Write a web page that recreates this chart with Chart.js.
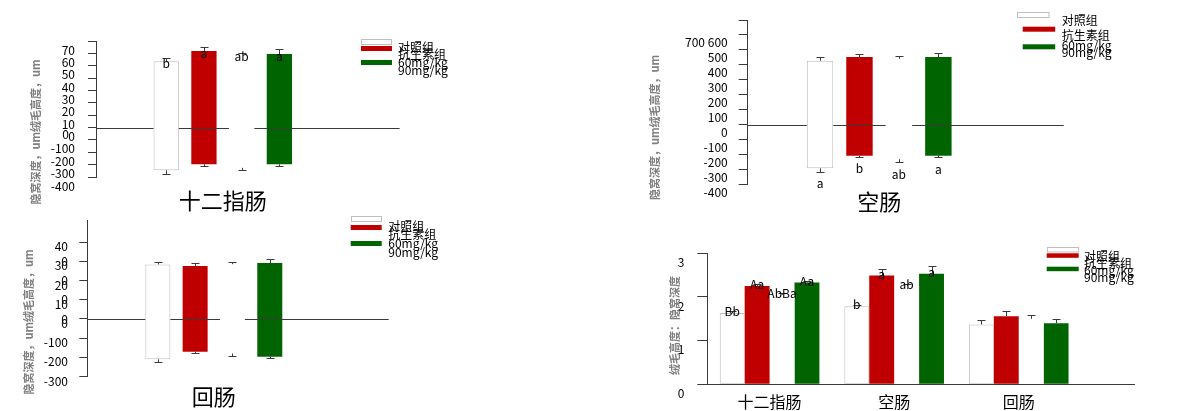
<!DOCTYPE html>
<html>
<head>
<meta charset="utf-8">
<script src="https://cdn.jsdelivr.net/npm/chart.js@4.4.1/dist/chart.umd.min.js"></script>
<style>
  html, body { margin: 0; padding: 0; background: #fff; }
  body { width: 1179px; height: 411px; position: relative; overflow: hidden; }
  canvas { position: absolute; }
</style>
</head>
<body>
<canvas id="duo" width="590" height="225" style="left:0;top:0"></canvas>
<canvas id="jej" width="539" height="225" style="left:640px;top:0"></canvas>
<canvas id="ile" width="590" height="201" style="left:0;top:210px"></canvas>
<canvas id="ratio" width="539" height="171" style="left:640px;top:240px"></canvas>
<script>
// ---- data ----
const groups = ['对照组', '抗生素组', '60mg/kg', '90mg/kg'];
const segments = ['十二指肠', '空肠', '回肠'];

// 十二指肠, um: villus height up, crypt depth down
const duoVillus = [536, 619, 595, 595];
const duoVillusErr = [24, 32, 6, 38];
const duoCrypt = [-346, -297, -326, -297];
const duoCryptErr = [32, 13, 20, 13];
const duoLetters = ['b', 'a', 'ab', 'a'];
const duoTicks = [700, 600, 500, 400, 300, 200, 100, 0, -100, -200, -300, -400];
const duoTickLabels = ['70', '60', '50', '40', '30', '20', '10', '0', '-100', '-200', '-300', '-400'];
const duoExtraTicks = [0];

// 空肠
const jejVillus = [427, 452, 440, 452];
const jejVillusErr = [23, 20, 19, 25];
const jejCrypt = [-293, -209, -232, -209];
const jejCryptErr = [23, 7, 19, 10];
const jejLetters = ['a', 'b', 'ab', 'a'];
const jejTicks = duoTicks;
const jejTickLabels = ['', '700 600', '500', '400', '300', '200', '100', '0', '-100', '-200', '-300', '-400'];

// 回肠
const ileVillus = [284, 275, 285, 291];
const ileVillusErr = [14, 14, 13, 19];
const ileCrypt = [-210, -171, -180, -197];
const ileCryptErr = [16, 8, 13, 8];
const ileTicks = [400, 300, 200, 100, 0, -100, -200, -300];
const ileTickLabels = ['40', '30', '20', '10', '0', '-100', '-200', '-300'];
const ileExtraTicks = [300, 200, 100, 0];

// 绒毛高度：隐窝深度
const ratioCtrl = [1.63, 1.79, 1.37];
const ratioAbx = [2.25, 2.49, 1.56];
const ratio60 = [2.05, 2.25, 1.50];
const ratio90 = [2.33, 2.53, 1.40];
const ratioCtrlErr = [0.04, 0.03, 0.10];
const ratioAbxErr = [0.04, 0.14, 0.11];
const ratio60Err = [0.04, 0.04, 0.08];
const ratio90Err = [0.04, 0.17, 0.09];
const ratioLetters = [['Bb', 'b', ''], ['Aa', 'a', ''], ['AbBa', 'ab', ''], ['Aa', 'a', '']];
const ratioTicks = [3, 2, 1, 0];
const ratioTickLabels = ['3', '2', '1', '0'];

// ---- style ----
const FONT = '"Noto Sans CJK SC", "Noto Sans", sans-serif';
const fills = ['#ffffff', '#c00000', '#ffffff', '#006400'];
const edges = ['#bfbfbf', '#c00000', 'rgba(0,0,0,0)', '#006400'];
const edgeWidths = [1, 0, 0, 0];
const AXIS = '#3a3a3a';

function floating(up, down) {
    return groups.map((g, i) => [[down[i], up[i]]]);
}
function single(arr) {
    return groups.map((g, i) => [arr[i]]);
}

function makeChart(id, p) {
    const topOf = v => Array.isArray(v) ? v[1] : v;

    // horizontal zero line, hidden behind the white bars
    const zeroLine = {
        id: 'zeroLine',
        afterDatasetsDraw(chart) {
            const { ctx, chartArea: a } = chart;
            const y = Math.round(chart.scales.y.getPixelForValue(0)) + 0.5;
            let segs = [[a.left - p.zero.left, a.right + p.zero.right]];
            if (p.zero.gaps) {
                p.data.forEach((vals, i) => {
                    if (fills[i] !== '#ffffff') return;
                    chart.getDatasetMeta(i).data.forEach(bar => {
                        const x0 = bar.x - bar.width / 2, x1 = bar.x + bar.width / 2;
                        segs = segs.flatMap(([s, e]) => (x1 <= s || x0 >= e)
                            ? [[s, e]]
                            : [[s, x0], [x1, e]].filter(q => q[1] > q[0]));
                    });
                });
            }
            ctx.save();
            ctx.strokeStyle = AXIS;
            ctx.lineWidth = 1;
            ctx.beginPath();
            segs.forEach(([s, e]) => { ctx.moveTo(s, y); ctx.lineTo(e, y); });
            ctx.stroke();
            ctx.restore();
        }
    };

    const errBars = {
        id: 'errBars',
        afterDatasetsDraw(chart) {
            const ctx = chart.ctx, ys = chart.scales.y;
            ctx.save();
            ctx.strokeStyle = AXIS;
            ctx.lineWidth = 1;
            const stroke = (x, a, b) => {
                const cx = Math.round(x) + 0.5;
                const y0 = ys.getPixelForValue(a);
                const y1 = Math.round(ys.getPixelForValue(b)) + 0.5;
                ctx.beginPath();
                ctx.moveTo(cx, y0); ctx.lineTo(cx, y1);
                ctx.moveTo(cx - 4, y1); ctx.lineTo(cx + 4, y1);
                ctx.stroke();
            };
            p.data.forEach((vals, i) => {
                chart.getDatasetMeta(i).data.forEach((bar, j) => {
                    const v = vals[j];
                    stroke(bar.x, topOf(v), topOf(v) + p.errHi[i][j]);
                    if (Array.isArray(v)) stroke(bar.x, v[0], v[0] - p.errLo[i][j]);
                });
            });
            ctx.restore();
        }
    };

    const letterMarks = {
        id: 'letterMarks',
        afterDatasetsDraw(chart) {
            if (!p.letters) return;
            const ctx = chart.ctx, ys = chart.scales.y;
            ctx.save();
            ctx.font = `12px ${FONT}`;
            ctx.fillStyle = '#000';
            ctx.textAlign = 'center';
            ctx.textBaseline = 'middle';
            p.letters.forEach((arr, i) => {
                chart.getDatasetMeta(i).data.forEach((bar, j) => {
                    const t = arr[j];
                    if (!t) return;
                    const v = p.data[i][j];
                    const val = p.letterMode === 'bottom' ? v[0] - p.errLo[i][j] : topOf(v);
                    ctx.fillText(t, bar.x, ys.getPixelForValue(val) + p.letterDy);
                });
            });
            ctx.restore();
        }
    };

    // second set of tick labels that overlaps the first one
    const extraTicks = {
        id: 'extraTicks',
        afterDraw(chart) {
            if (!p.extra) return;
            const ctx = chart.ctx, ys = chart.scales.y;
            const x = chart.chartArea.left - p.y.tickLength - p.y.padding + p.extra.dx;
            ctx.save();
            ctx.font = `12px ${FONT}`;
            ctx.fillStyle = '#000';
            ctx.textAlign = 'right';
            ctx.textBaseline = 'middle';
            p.extra.values.forEach(v => ctx.fillText(p.extra.text, x, ys.getPixelForValue(v) + p.extra.dy));
            ctx.restore();
        }
    };

    const sideTitle = {
        id: 'sideTitle',
        afterDraw(chart) {
            const ctx = chart.ctx;
            ctx.save();
            ctx.translate(p.title.x, p.title.y);
            ctx.rotate(-Math.PI / 2);
            ctx.font = `bold 11px ${FONT}`;
            ctx.fillStyle = '#808080';
            ctx.textAlign = 'center';
            ctx.textBaseline = 'middle';
            ctx.fillText(p.title.text, 0, 0);
            ctx.restore();
        }
    };

    const boxLegend = {
        id: 'boxLegend',
        afterDraw(chart) {
            const ctx = chart.ctx, L = p.legend;
            ctx.save();
            ctx.font = `12px ${FONT}`;
            ctx.textAlign = 'left';
            ctx.textBaseline = 'middle';
            groups.forEach((g, i) => {
                const x = L.x + (L.dx ? L.dx[i] : 0), y = L.ys[i];
                if (edgeWidths[i]) {
                    ctx.fillStyle = fills[i];
                    ctx.fillRect(x, y, L.w, L.h);
                    ctx.strokeStyle = edges[i];
                    ctx.lineWidth = 1;
                    ctx.strokeRect(Math.round(x) + 0.5, Math.round(y) + 0.5, L.w - 1, L.h);
                } else if (fills[i] !== '#ffffff') {
                    ctx.fillStyle = fills[i];
                    ctx.fillRect(x, y, L.w, L.h);
                }
                ctx.fillStyle = '#000';
                ctx.fillText(g, L.tx, L.tys[i]);
            });
            ctx.restore();
        }
    };

    return new Chart(document.getElementById(id), {
        type: 'bar',
        data: {
            labels: p.categories,
            datasets: groups.map((g, i) => ({
                label: g,
                data: p.data[i],
                backgroundColor: fills[i],
                borderColor: edges[i],
                borderWidth: edgeWidths[i],
                borderSkipped: false,
                categoryPercentage: p.catPct,
                barPercentage: p.barPct
            }))
        },
        options: {
            responsive: false,
            animation: false,
            devicePixelRatio: 1,
            layout: { padding: { left: 0, top: p.pad.top, right: p.pad.right, bottom: 0 } },
            plugins: { legend: { display: false }, tooltip: { enabled: false } },
            scales: {
                x: {
                    grid: { display: false, drawTicks: false },
                    border: { display: false },
                    ticks: {
                        color: '#000',
                        font: { family: FONT, size: p.x.size },
                        padding: p.x.padding,
                        maxRotation: 0,
                        autoSkip: false
                    },
                    afterFit: s => { s.height = p.x.height; s.paddingLeft = 0; s.paddingRight = 0; }
                },
                y: {
                    min: p.y.min,
                    max: p.y.max,
                    afterBuildTicks: s => { s.ticks = p.y.ticks.map(v => ({ value: v })); },
                    afterFit: s => { s.width = p.y.width; s.paddingTop = 0; s.paddingBottom = 0; },
                    border: { display: true, color: AXIS, width: 1 },
                    grid: {
                        drawOnChartArea: false,
                        drawTicks: true,
                        tickLength: p.y.tickLength,
                        color: AXIS,
                        tickColor: AXIS
                    },
                    ticks: {
                        color: '#000',
                        font: { family: FONT, size: 12 },
                        padding: p.y.padding,
                        labelOffset: p.y.labelOffset,
                        autoSkip: false,
                        callback: v => {
                            const k = p.y.ticks.indexOf(v);
                            return k >= 0 ? p.y.labels[k] : '';
                        }
                    }
                }
            }
        },
        plugins: [zeroLine, errBars, letterMarks, extraTicks, sideTitle, boxLegend]
    });
}

const depthTitle = '隐窝深度，um绒毛高度，um';

makeChart('duo', {
    categories: [segments[0]],
    data: floating(duoVillus, duoCrypt),
    errHi: single(duoVillusErr),
    errLo: single(duoCryptErr),
    letters: single(duoLetters), letterMode: 'top', letterDy: 2,
    catPct: 0.595, barPct: 0.67,
    pad: { top: 41, right: 240.4 },
    y: { min: -400, max: 700, ticks: duoTicks, labels: duoTickLabels, width: 96, tickLength: 8, padding: 13, labelOffset: 9 },
    extra: { values: duoExtraTicks, text: '0', dx: -6, dy: 7 },
    x: { height: 48, padding: 10, size: 22 },
    zero: { gaps: true, left: 0, right: 50 },
    title: { text: depthTitle, x: 36, y: 132 },
    legend: { x: 361, w: 31, h: 5, ys: [39, 46, 53, 60], tx: 398, tys: [47, 54.5, 62, 70] }
});

makeChart('jej', {
    categories: [segments[1]],
    data: floating(jejVillus, jejCrypt),
    errHi: single(jejVillusErr),
    errLo: single(jejCryptErr),
    letters: single(jejLetters), letterMode: 'bottom', letterDy: 12,
    catPct: 0.6, barPct: 0.67,
    pad: { top: 20, right: 168.3 },
    y: { min: -400, max: 700, ticks: jejTicks, labels: jejTickLabels, width: 107.7, tickLength: 9, padding: 11, labelOffset: 8 },
    x: { height: 40.7, padding: 4, size: 22 },
    zero: { gaps: true, left: 0, right: 53 },
    title: { text: depthTitle, x: 15, y: 127.5 },
    legend: { x: 382.7, dx: [-5.4, 0, 0, 0], w: 32.5, h: 5, ys: [12.3, 26.7, 35.5, 44.3], tx: 421.7, tys: [20.7, 35, 45, 52.3] }
});

makeChart('ile', {
    categories: [segments[2]],
    data: floating(ileVillus, ileCrypt),
    errHi: single(ileVillusErr),
    errLo: single(ileCryptErr),
    letters: null,
    catPct: 0.59, barPct: 0.67,
    pad: { top: 10, right: 249.7 },
    y: { min: -300, max: 515, ticks: ileTicks, labels: ileTickLabels, width: 87.3, tickLength: 8, padding: 11.3, labelOffset: 4.5 },
    extra: { values: ileExtraTicks, text: '0', dx: 0, dy: 0 },
    x: { height: 34.4, padding: 7, size: 22 },
    zero: { gaps: true, left: 0, right: 48.4 },
    title: { text: depthTitle, x: 29, y: 112 },
    legend: { x: 350.7, w: 31, h: 5, ys: [6, 15, 23, 31], tx: 388.3, tys: [16.7, 24, 33, 42.3] }
});

makeChart('ratio', {
    categories: segments,
    data: [ratioCtrl, ratioAbx, ratio60, ratio90],
    errHi: [ratioCtrlErr, ratioAbxErr, ratio60Err, ratio90Err],
    errLo: null,
    letters: ratioLetters, letterMode: 'top', letterDy: -1.5,
    catPct: 0.8, barPct: 1.0,
    pad: { top: 13.3, right: 98 },
    y: { min: 0, max: 3, ticks: ratioTicks, labels: ratioTickLabels, width: 67.3, tickLength: 10, padding: 13, labelOffset: 9 },
    x: { height: 26.7, padding: 7.8, size: 16 },
    zero: { gaps: false, left: 0, right: 54 },
    title: { text: '绒毛高度：隐窝深度', x: 35, y: 85.5 },
    legend: { x: 406.7, w: 32, h: 4.5, ys: [7.3, 13.3, 20, 26.7], tx: 444, tys: [16.7, 23.3, 30, 37.3] }
});
</script>
</body>
</html>
